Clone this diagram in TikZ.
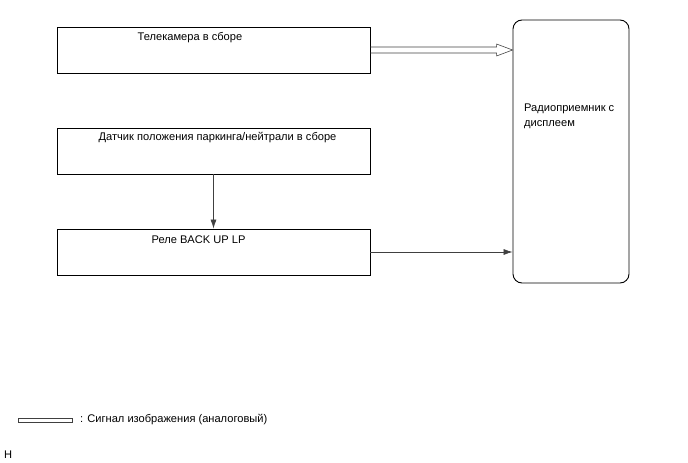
\documentclass[tikz,border=0pt]{standalone}
\usepackage{fontspec}
\setmainfont{Liberation Sans}
\usepackage{tikz}
\usetikzlibrary{arrows.meta, positioning}

\begin{document}
\begin{tikzpicture}[
        x=1pt, y=-1pt,
        every node/.style={font=\fontsize{11.1}{14.5}\selectfont, inner sep=0pt},
        unit/.style={draw, rectangle, line width=0.9pt, minimum width=313pt, minimum height=46pt},
        radio/.style={draw, rectangle, rounded corners=9pt, line width=0.9pt, minimum width=116pt, minimum height=263pt},
        signal/.style={->, >={Latex[length=9pt, width=6pt]}, line width=0.6pt, draw=black!75},
        hollow/.style={line width=0.6pt, draw=black!75}
    ]
    \useasboundingbox (0,0) rectangle (688,463);

    % Units
    \node (cam) [unit] at (213.5,50) {};
    \node (park) [unit] at (213.5,151) {};
    \node (relay) [unit] at (213.5,252) {};
    \node (radio) [radio] at (571,151.5) {};

    \node (camtxt) at (190,38) {Телекамера в сборе};
    \node (parktxt) at (217.5,138) {Датчик положения паркинга/нейтрали в сборе};
    \node (relaytxt) at (198.5,240) {Реле BACK UP LP};
    \node (radiotxt) [anchor=north west, align=left] at (524,104) {Радиоприемник с\\дисплеем};

    % Signals
    \coordinate (tip) at (radio.west |- cam.east);
    \draw [hollow] ([shift={(0,-3)}]cam.east) -- ([shift={(-16,-3)}]tip) -- ([shift={(-16,-6)}]tip) -- (tip)
        -- ([shift={(-16,6)}]tip) -- ([shift={(-16,3)}]tip) -- ([shift={(0,3)}]cam.east);
    \draw [signal] (park.south) -- (relay.north);
    \draw [signal] (relay.east) -- (radio.west |- relay.east);

    % Legend
    \node (legbar) [draw=black!75, line width=0.6pt, minimum width=54pt, minimum height=4pt] at (45,420) {};
    \node (legtxt) [anchor=west] at (80,420) {: Сигнал изображения (аналоговый)};
    \node (mark) [anchor=west] at (4,455) {H};

    \end{tikzpicture}
\end{document}
